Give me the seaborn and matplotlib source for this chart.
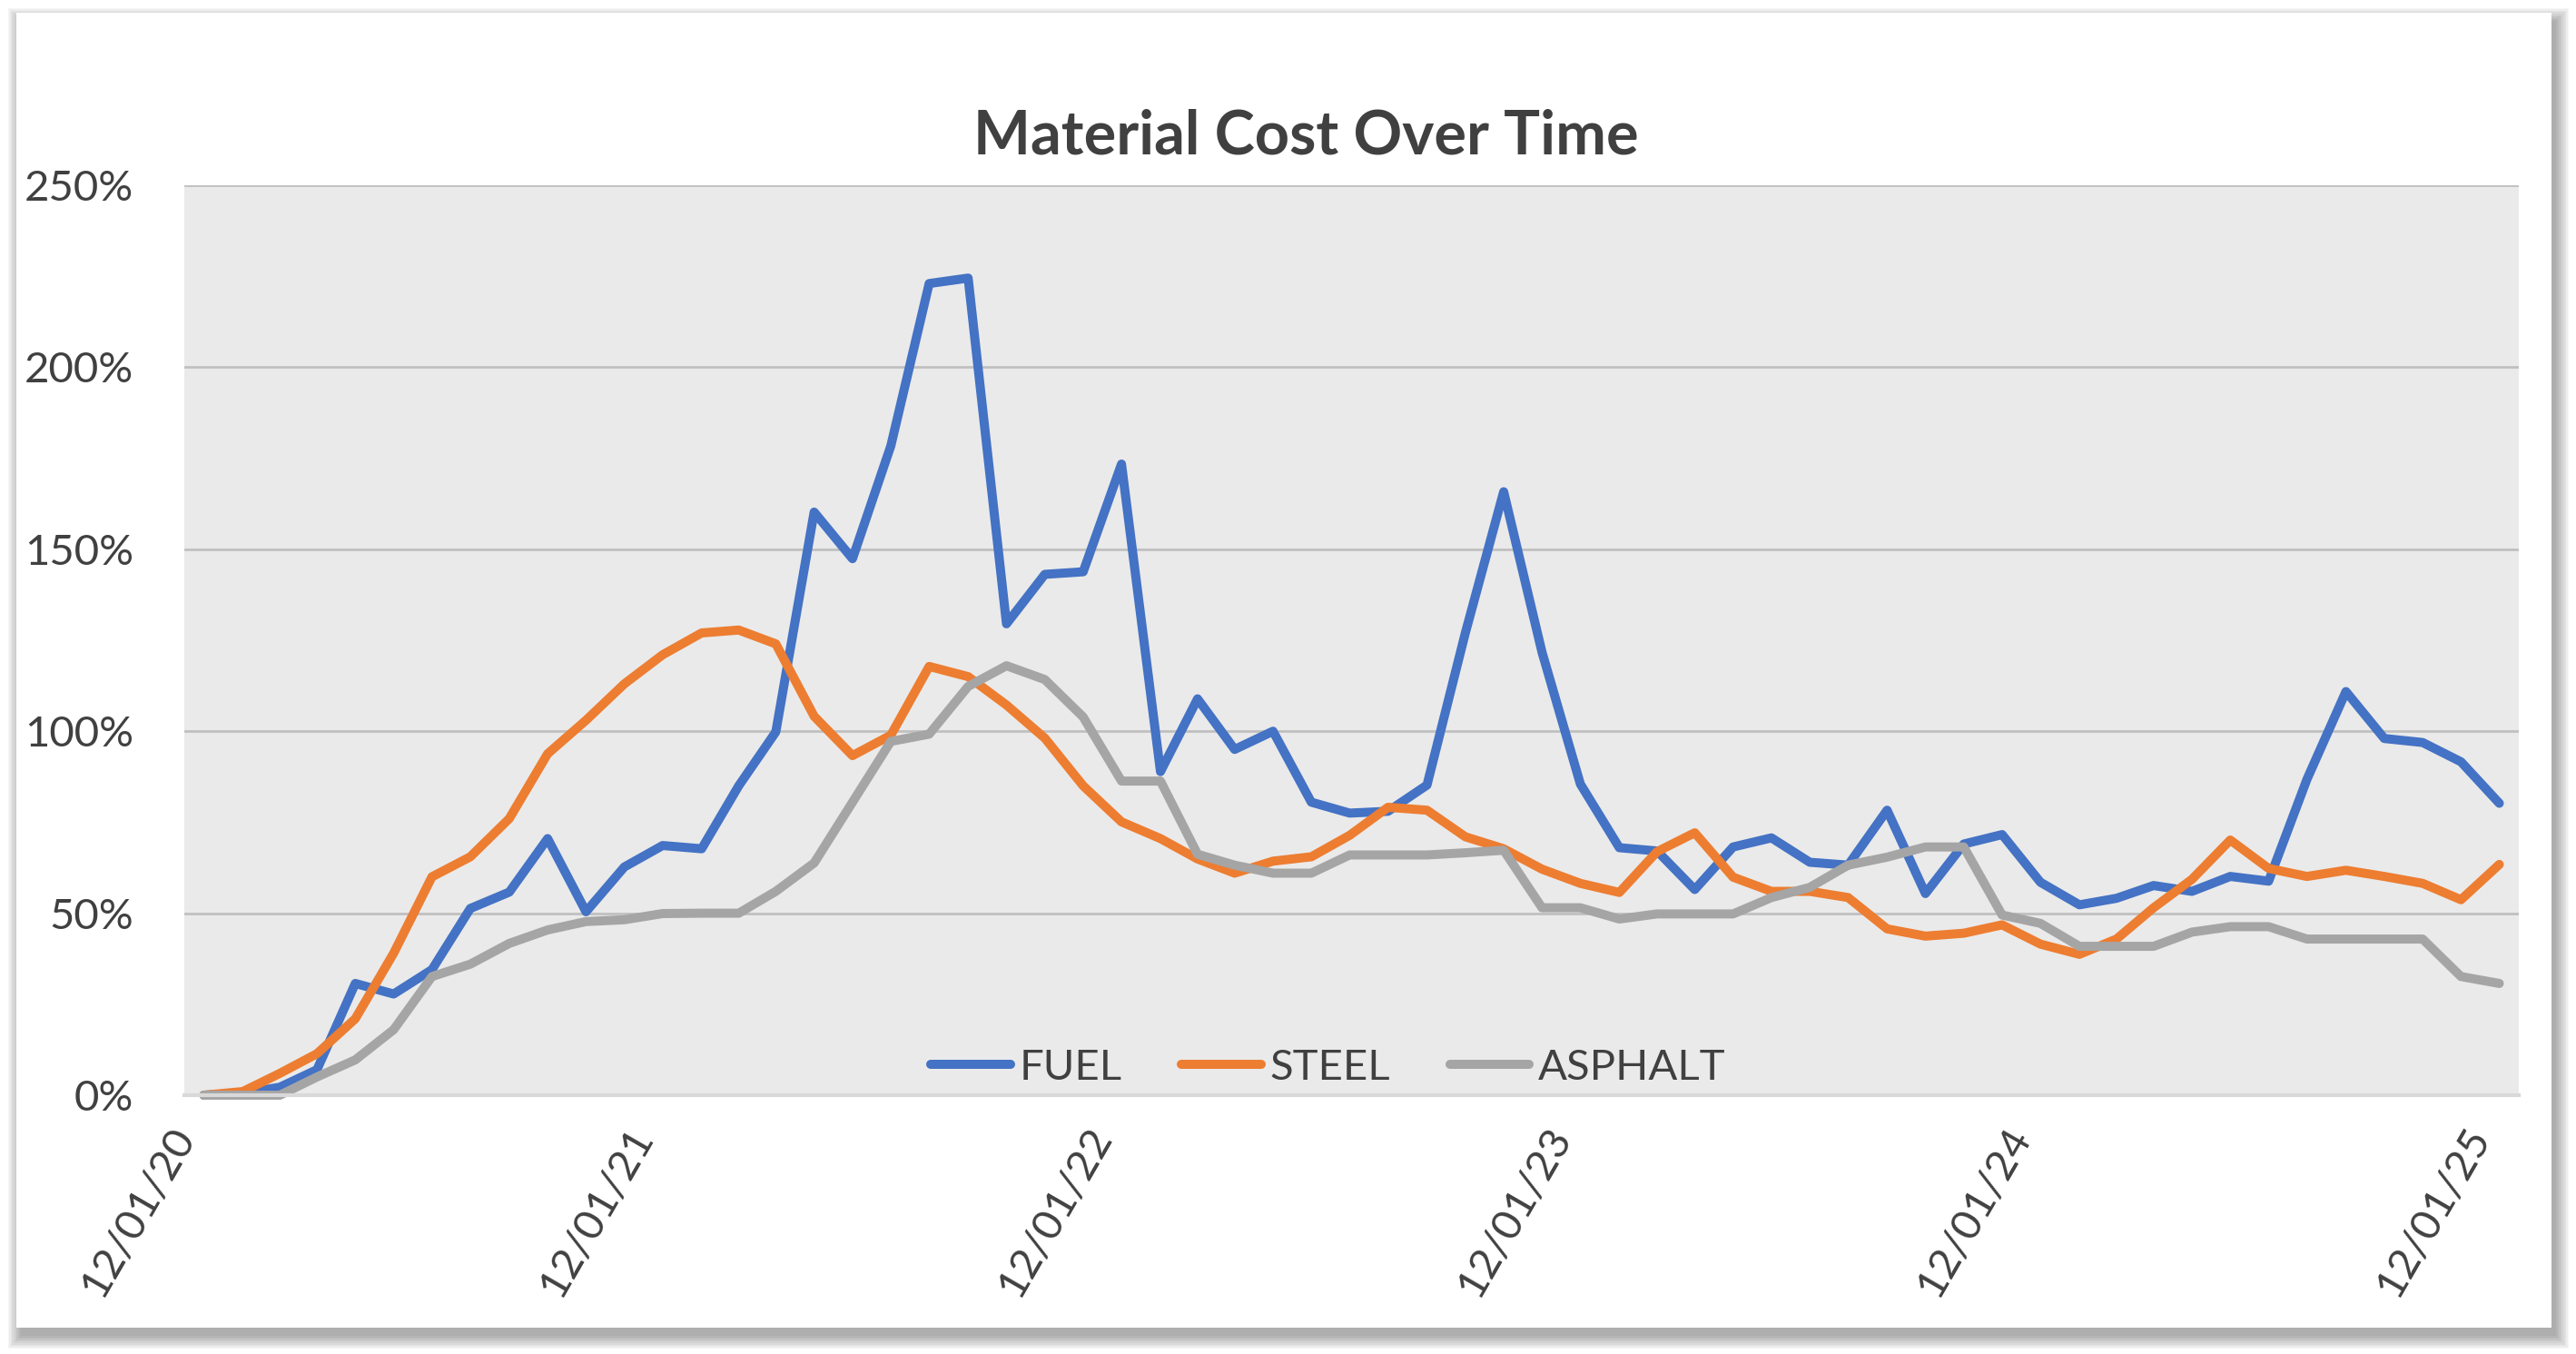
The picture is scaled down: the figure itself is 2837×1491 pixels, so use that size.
import numpy as np
import pandas as pd
import seaborn as sns
import matplotlib.pyplot as plt
import matplotlib.dates as mdates
from matplotlib.patches import Rectangle
from matplotlib.lines import Line2D
from matplotlib.ticker import FuncFormatter

# monthly values, Dec 2020 .. Dec 2025 (percent change)
months = pd.date_range("2020-12-01", periods=61, freq="MS")
fuel = [0, 0.5, 2.2, 7, 30.7, 27.8, 34.5, 51.3, 55.8, 70.5, 50.4, 62.7, 68.6, 67.7, 85, 99.8,
        160.2, 147.4, 178.4, 223, 224.5, 129.5, 143.1, 143.8, 173.4, 88.9, 108.9, 95, 100, 80.5,
        77.5, 78, 85.2, 127, 165.8, 121.7, 85.5, 68, 67.1, 56.5, 68.2, 70.7, 64, 63.2, 78.3,
        55.4, 69, 71.6, 58.5, 52.3, 54.1, 57.6, 56, 60.1, 58.8, 86.8, 110.9, 98, 96.9, 91.6, 80.2]
steel = [0, 1, 6, 11.4, 21, 39, 60, 65.5, 76, 93.8, 103, 113, 121, 127, 127.8, 124,
         104.1, 93.3, 98.9, 117.8, 115, 107.2, 98.1, 85, 75.1, 70.5, 64.9, 61, 64.3, 65.5,
         71.4, 79.1, 78.3, 71, 67.7, 62.1, 58.2, 55.7, 66.9, 72.1, 59.9, 56, 56, 54.3, 45.7,
         43.7, 44.5, 46.8, 41.5, 38.7, 42.9, 51.5, 59.3, 70.1, 62.3, 60.1, 61.8, 60.1, 58.2, 53.7, 63.4]
asphalt = [0, 0, 0, 5, 9.7, 18, 32.6, 36, 41.7, 45.4, 47.7, 48.2, 49.9, 50, 50, 56,
           63.8, 80.5, 97.2, 99.2, 112.3, 118, 114.2, 103.9, 86.3, 86.3, 66.2, 63.2, 61, 61,
           66, 66, 66, 66.6, 67.3, 51.5, 51.5, 48.4, 49.8, 49.8, 49.8, 54.3, 57.1, 63.2, 65.4,
           68.2, 68.2, 49.5, 47.2, 40.9, 40.9, 40.9, 44.8, 46.3, 46.3, 42.9, 42.9, 42.9, 42.9, 32.6, 30.7]

series = ["FUEL", "STEEL", "ASPHALT"]
colors = {"FUEL": "#4472C4", "STEEL": "#ED7D31", "ASPHALT": "#A5A5A5"}
tick_dates = pd.to_datetime(["2020-12-01", "2021-12-01", "2022-12-01",
                             "2023-12-01", "2024-12-01", "2025-12-01"])

# points sit in the middle of each month (date axis, "between tick marks")
mid = months + (months.shift(1) - months) / 2
df = pd.DataFrame({"date": mid, "FUEL": fuel, "STEEL": steel, "ASPHALT": asphalt})
df = df.melt(id_vars="date", var_name="material", value_name="cost")

sns.set_style("white")
plt.rcParams["font.family"] = ["Lato", "DejaVu Sans"]
txt = "#404040"
LW = 7.2

W, H = 2837, 1491
fig = plt.figure(figsize=(W / 100, H / 100), dpi=100)

# card with soft drop shadow
cx0, cx1, cy0, cy1 = 18, 2810, 14, 1462
for k in range(10):
    e = k * 1.6
    fig.patches.append(Rectangle(((cx0 + 5 - e) / W, 1 - (cy1 + 9 + e) / H),
                                 (cx1 - cx0 + 2 * e) / W, (cy1 - cy0 + 2 * e) / H,
                                 transform=fig.transFigure, facecolor="black",
                                 alpha=0.035, lw=0, zorder=-3))
fig.patches.append(Rectangle((cx0 / W, 1 - cy1 / H), (cx1 - cx0) / W, (cy1 - cy0) / H,
                             transform=fig.transFigure, facecolor="white", lw=0, zorder=-2))

ax = fig.add_axes([203 / W, 1 - 1206 / H, (2774 - 203) / W, (1206 - 204) / H])
ax.set_facecolor("#EAEAEA")

sns.lineplot(data=df, x="date", y="cost", hue="material", hue_order=series,
             palette=colors, legend=False, ax=ax)
for ln in ax.lines:
    ln.set_linewidth(LW)
    ln.set_solid_capstyle("round")
    ln.set_solid_joinstyle("round")
    ln.set_clip_on(False)

ax.set_xlim(pd.Timestamp("2020-12-01"), pd.Timestamp("2026-01-01"))
ax.set_ylim(0, 250)
ax.set_yticks(range(0, 251, 50))
ax.yaxis.set_major_formatter(FuncFormatter(lambda v, p: f"{v:.0f}%"))
ax.set_xticks(tick_dates)
ax.xaxis.set_major_formatter(mdates.DateFormatter("%m/%d/%y"))
ax.set_xlabel("")
ax.set_ylabel("")

ax.yaxis.grid(True, color="#C0C0C0", lw=2)
ax.xaxis.grid(False)
ax.set_axisbelow(True)
for s in ["left", "right", "top"]:
    ax.spines[s].set_visible(False)
ax.spines["bottom"].set_color("#D9D9D9")
ax.spines["bottom"].set_linewidth(3)

ax.tick_params(axis="y", length=0, pad=40, labelsize=34, labelcolor=txt)
ax.tick_params(axis="x", length=12, width=2, color="#D9D9D9", pad=16,
               labelsize=34, labelcolor=txt)
for lab in ax.get_xticklabels():
    lab.set_rotation(60)
    lab.set_ha("right")
    lab.set_va("center")
    lab.set_rotation_mode("anchor")

handles = [Line2D([], [], color=colors[s], lw=LW, solid_capstyle="round") for s in series]
ax.legend(handles, series, loc="center", bbox_to_anchor=(0.49, 0.03), ncol=3,
          frameon=False, fontsize=34, labelcolor=txt, handlelength=1.85,
          handletextpad=0.2, columnspacing=1.4)

fig.text(1438 / W, 1 - 150 / H, "Material Cost Over Time", ha="center", va="center",
         fontsize=48, fontweight="bold", color=txt)

fig.savefig("out.png", dpi=100, facecolor="white")
